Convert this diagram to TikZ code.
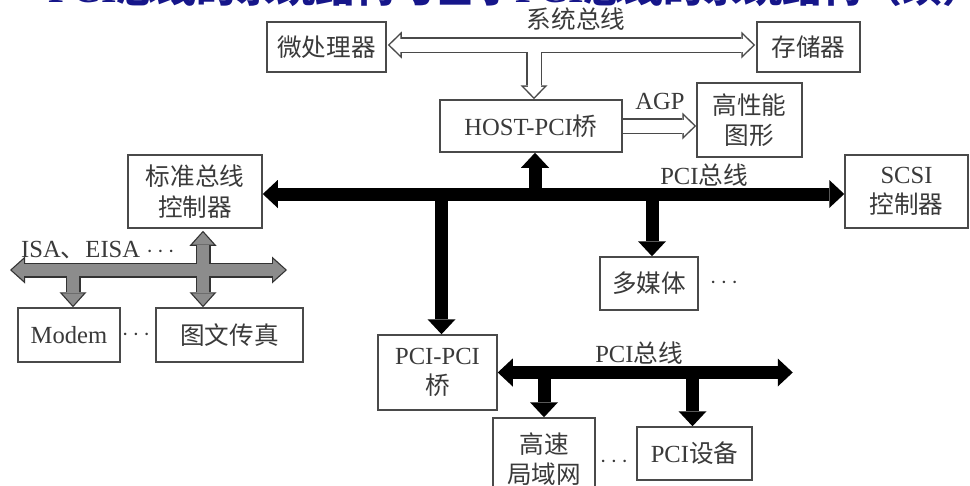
\documentclass[tikz,border=0pt]{standalone}
\usepackage{fontspec}
\setmainfont{Liberation Serif}
\newfontfamily\cjk{Noto Sans CJK SC}
\usetikzlibrary{arrows.meta,calc}
\definecolor{txt}{HTML}{3A3A3A}
\definecolor{boxc}{HTML}{4A4A4A}
\definecolor{busgray}{HTML}{8C8C8C}
\definecolor{titleblue}{HTML}{16168A}
\newcommand\mybox[6]{\node[box, minimum width={(#4-#2)*0.3mm}, minimum height={(#5-#3)*0.3mm}] (#1) at ({(#2+#4)/2},{(#3+#5)/2}) {#6};}
\tikzset{
  box/.style={draw=boxc, line width=0.45mm, fill=white, inner sep=0pt, align=center, text=txt, font=\fontsize{21pt}{26pt}\selectfont},
  lbl/.style={inner sep=0pt, text=txt, font=\fontsize{21pt}{26pt}\selectfont},
  BK/.tip={Triangle[length=4.5mm,width=8.4mm,line width=0pt]},
  HO/.tip={Triangle[length=4.2mm,width=8.1mm,line width=0pt]},
  HI/.tip={Triangle[length=3.1mm,width=6mm,line width=0pt]},
  GO/.tip={Triangle[length=4.5mm,width=8.1mm,line width=0pt]},
  GI/.tip={Triangle[length=3.6mm,width=6.4mm,line width=0pt]},
  blk/.style={draw=black, line width=3.9mm},
  holoO/.style={draw=boxc, line width=4.8mm},
  holoI/.style={draw=white, line width=3.9mm, shorten <=0.65mm, shorten >=0.65mm},
  grO/.style={draw=black!80, line width=4.5mm},
  grI/.style={draw=busgray, line width=3.6mm, shorten <=0.54mm, shorten >=0.54mm},
}
\begin{document}
\begin{tikzpicture}[x=0.3mm,y=-0.3mm]
\useasboundingbox (0,0) rectangle (970,486);
\clip (0,0) rectangle (970,486);
\fill[white] (0,0) rectangle (970,486);
% partially visible title (cut off at the top edge)
\node[anchor=base west, inner sep=0pt, text=titleblue, font=\fontsize{34pt}{40pt}\selectfont\bfseries] (title) at (48,2) {PCI{\cjk 总线的系统结构与基于}PCI{\cjk 总线的系统结构（续）}};
% boxes
\mybox{mp}{267}{22}{386}{72}{{\cjk 微处理器}}
\mybox{mem}{757}{22}{860}{72}{{\cjk 存储器}}
\mybox{host}{440}{100}{622}{152}{HOST-PCI{\cjk 桥}}
\mybox{gfx}{697}{83}{802}{157}{{\cjk 高性能}\\{\cjk 图形}}
\mybox{scsi}{845}{155}{968}{228}{SCSI\\{\cjk 控制器}}
\mybox{std}{128}{155}{262}{228}{{\cjk 标准总线}\\{\cjk 控制器}}
\mybox{mm}{600}{257}{698}{310}{{\cjk 多媒体}}
\mybox{modem}{18}{308}{120}{362}{Modem}
\mybox{fax}{156}{308}{303}{362}{{\cjk 图文传真}}
\mybox{ppb}{378}{335}{497}{410}{PCI-PCI\\{\cjk 桥}}
\mybox{lan}{493}{418}{595}{500}{{\cjk 高速}\\{\cjk 局域网}}
\mybox{pcidev}{637}{427}{752}{480}{PCI{\cjk 设备}}
% labels
\node[lbl] (l1) at (576,19) {\cjk 系统总线};
\node[lbl] (l2) at (660,101) {AGP};
\node[lbl] (l3) at (704,175) {PCI{\cjk 总线}};
\node[lbl, anchor=west] (l4) at (21,250) {ISA{\cjk 、}EISA $\cdots$};
\node[lbl] (l5) at (639,353) {PCI{\cjk 总线}};
\node[lbl] (d1) at (724,283) {$\cdots$};
\node[lbl] (d2) at (136,335) {$\cdots$};
\node[lbl] (d3) at (614,462) {$\cdots$};
% coordinates
\coordinate (sL) at ($(mp.east)+(1,-2)$);
\coordinate (sR) at ($(mem.west)+(-1,-2)$);
\coordinate (hb) at ($(host.north)+(3,0)$);
\coordinate (hb0) at (hb |- sL);
\coordinate (agp) at (host.east -| gfx.west);
\coordinate (isaL) at (10,270);
\coordinate (isaR) at (287,270);
\coordinate (mo) at ($(modem.north)+(4,0)$);
\coordinate (mo0) at (mo |- isaL);
\coordinate (vs) at ($(std.south)+(8,2)$);
\coordinate (vf) at (vs |- fax.north);
\coordinate (pL) at ($(std.east)+(0,2.5)$);
\coordinate (pR) at (pL -| scsi.west);
\coordinate (hu) at ($(host.south)+(4,0)$);
\coordinate (hu0) at (hu |- pL);
\coordinate (pd) at ($(ppb.north)+(4,0)$);
\coordinate (pd0) at (pd |- pL);
\coordinate (mu) at ($(mm.north)+(3,0)$);
\coordinate (mu0) at (mu |- pL);
\coordinate (qL) at (ppb.east);
\coordinate (qR) at ($(qL)+(295,0)$);
\coordinate (la) at (lan.north);
\coordinate (la0) at (la |- qL);
\coordinate (pv) at ($(pcidev.north)+(-2,0)$);
\coordinate (pv0) at (pv |- qL);
% hollow arrows (system bus, AGP)
\draw[holoO, HO-HO] (sL) -- (sR);
\draw[holoO, -HO] (hb0) -- (hb);
\draw[holoO, -HO] (host.east) -- (agp);
\draw[holoI, HI-HI] (sL) -- (sR);
\draw[holoI, -HI, shorten <=0pt] (hb0) -- (hb);
\draw[holoI, -HI, shorten <=0pt] (host.east) -- (agp);
% gray ISA bus
\draw[grO, GO-GO] (isaL) -- (isaR);
\draw[grO, GO-GO] (vs) -- (vf);
\draw[grO, -GO] (mo0) -- (mo);
\draw[grI, GI-GI] (isaL) -- (isaR);
\draw[grI, GI-GI] (vs) -- (vf);
\draw[grI, -GI, shorten <=0pt] (mo0) -- (mo);
% black PCI buses
\draw[blk, BK-BK] (pL) -- (pR);
\draw[blk, -BK] (hu0) -- (hu);
\draw[blk, -BK] (pd0) -- (pd);
\draw[blk, -BK] (mu0) -- (mu);
\draw[blk, BK-BK] (qL) -- (qR);
\draw[blk, -BK] (la0) -- (la);
\draw[blk, -BK] (pv0) -- (pv);
\end{tikzpicture}
\end{document}
